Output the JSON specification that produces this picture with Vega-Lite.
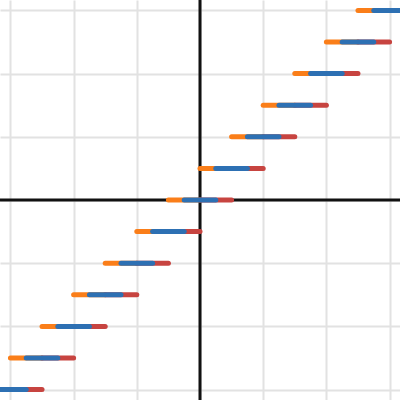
{
  "$schema": "https://vega.github.io/schema/vega-lite/v6.json",
  "width": 400,
  "height": 400,
  "autosize": {"type": "none"},
  "padding": 0,
  "background": "white",
  "config": {"view": {"stroke": null}},
  "datasets": {
    "steps": [
      {"fn": "ceil", "k": -6, "x1": -7, "x2": -6},
      {"fn": "ceil", "k": -5, "x1": -6, "x2": -5},
      {"fn": "ceil", "k": -4, "x1": -5, "x2": -4},
      {"fn": "ceil", "k": -3, "x1": -4, "x2": -3},
      {"fn": "ceil", "k": -2, "x1": -3, "x2": -2},
      {"fn": "ceil", "k": -1, "x1": -2, "x2": -1},
      {"fn": "ceil", "k": 0, "x1": -1, "x2": 0},
      {"fn": "ceil", "k": 1, "x1": 0, "x2": 1},
      {"fn": "ceil", "k": 2, "x1": 1, "x2": 2},
      {"fn": "ceil", "k": 3, "x1": 2, "x2": 3},
      {"fn": "ceil", "k": 4, "x1": 3, "x2": 4},
      {"fn": "ceil", "k": 5, "x1": 4, "x2": 5},
      {"fn": "ceil", "k": 6, "x1": 5, "x2": 6},
      {"fn": "floor", "k": -6, "x1": -6, "x2": -5},
      {"fn": "floor", "k": -5, "x1": -5, "x2": -4},
      {"fn": "floor", "k": -4, "x1": -4, "x2": -3},
      {"fn": "floor", "k": -3, "x1": -3, "x2": -2},
      {"fn": "floor", "k": -2, "x1": -2, "x2": -1},
      {"fn": "floor", "k": -1, "x1": -1, "x2": 0},
      {"fn": "floor", "k": 0, "x1": 0, "x2": 1},
      {"fn": "floor", "k": 1, "x1": 1, "x2": 2},
      {"fn": "floor", "k": 2, "x1": 2, "x2": 3},
      {"fn": "floor", "k": 3, "x1": 3, "x2": 4},
      {"fn": "floor", "k": 4, "x1": 4, "x2": 5},
      {"fn": "floor", "k": 5, "x1": 5, "x2": 6},
      {"fn": "floor", "k": 6, "x1": 6, "x2": 7},
      {"fn": "round", "k": -6, "x1": -6.5, "x2": -5.5},
      {"fn": "round", "k": -5, "x1": -5.5, "x2": -4.5},
      {"fn": "round", "k": -4, "x1": -4.5, "x2": -3.5},
      {"fn": "round", "k": -3, "x1": -3.5, "x2": -2.5},
      {"fn": "round", "k": -2, "x1": -2.5, "x2": -1.5},
      {"fn": "round", "k": -1, "x1": -1.5, "x2": -0.5},
      {"fn": "round", "k": 0, "x1": -0.5, "x2": 0.5},
      {"fn": "round", "k": 1, "x1": 0.5, "x2": 1.5},
      {"fn": "round", "k": 2, "x1": 1.5, "x2": 2.5},
      {"fn": "round", "k": 3, "x1": 2.5, "x2": 3.5},
      {"fn": "round", "k": 4, "x1": 3.5, "x2": 4.5},
      {"fn": "round", "k": 5, "x1": 4.5, "x2": 5.5},
      {"fn": "round", "k": 6, "x1": 5.5, "x2": 6.5}
    ]
  },
  "resolve": {"scale": {"x": "shared", "y": "shared"}},
  "layer": [
    {
      "data": {"values": [{"v": 0}]},
      "mark": {"type": "rule", "stroke": "#111", "strokeWidth": 3},
      "encoding": {
        "x": {
          "datum": 0,
          "type": "quantitative",
          "scale": {"domain": [-6.33, 6.33], "nice": false, "zero": false},
          "axis": {"values": [-6, -4, -2, 0, 2, 4, 6], "grid": true, "gridColor": "#e2e2e2", "gridWidth": 2, "labels": false, "ticks": false, "domain": false, "title": null}
        }
      }
    },
    {
      "data": {"values": [{"v": 0}]},
      "mark": {"type": "rule", "stroke": "#111", "strokeWidth": 3},
      "encoding": {
        "y": {
          "datum": 0,
          "type": "quantitative",
          "scale": {"domain": [-6.33, 6.33], "nice": false, "zero": false},
          "axis": {"values": [-6, -4, -2, 0, 2, 4, 6], "grid": true, "gridColor": "#e2e2e2", "gridWidth": 2, "labels": false, "ticks": false, "domain": false, "title": null}
        }
      }
    },
    {
      "data": {"name": "steps"},
      "transform": [{"filter": "datum.fn === 'ceil'"}],
      "mark": {"type": "rule", "stroke": "#fa7e19", "strokeWidth": 5, "strokeCap": "round", "clip": true},
      "encoding": {
        "x": {"field": "x1", "type": "quantitative"},
        "x2": {"field": "x2"},
        "y": {"field": "k", "type": "quantitative"}
      }
    },
    {
      "data": {"name": "steps"},
      "transform": [{"filter": "datum.fn === 'floor'"}],
      "mark": {"type": "rule", "stroke": "#c74440", "strokeWidth": 5, "strokeCap": "round", "clip": true},
      "encoding": {
        "x": {"field": "x1", "type": "quantitative"},
        "x2": {"field": "x2"},
        "y": {"field": "k", "type": "quantitative"}
      }
    },
    {
      "data": {"name": "steps"},
      "transform": [{"filter": "datum.fn === 'round'"}],
      "mark": {"type": "rule", "stroke": "#2d70b3", "strokeWidth": 5, "strokeCap": "round", "clip": true},
      "encoding": {
        "x": {"field": "x1", "type": "quantitative"},
        "x2": {"field": "x2"},
        "y": {"field": "k", "type": "quantitative"}
      }
    }
  ]
}
